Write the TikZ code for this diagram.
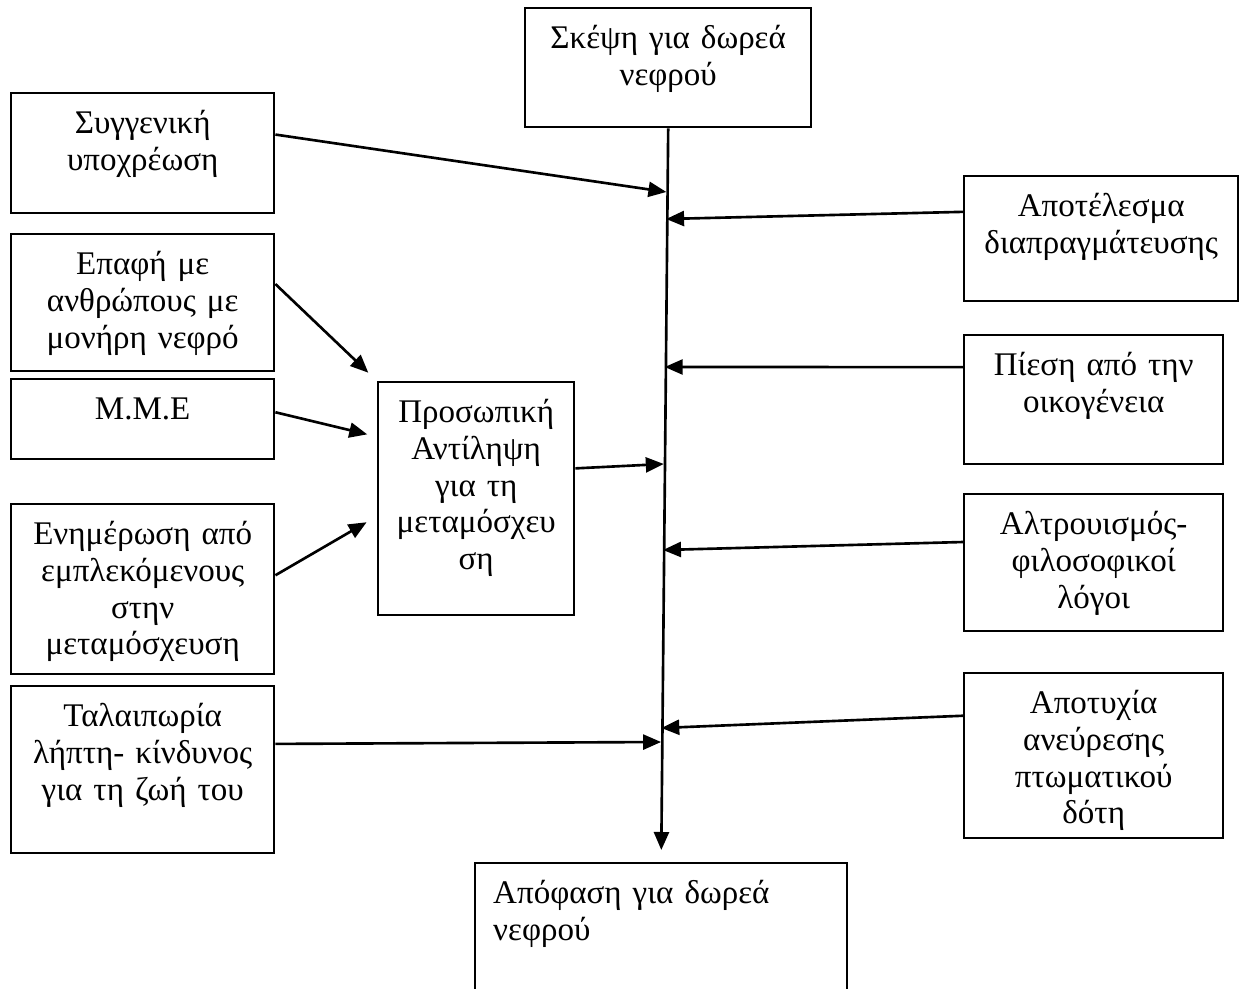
\documentclass[tikz,border=0pt]{standalone}
\usepackage{fontspec}
\setmainfont{Liberation Serif}
\usetikzlibrary{arrows.meta}
\tikzstyle{box} = [rectangle, draw=black, line width=1.4pt, inner sep=0pt, anchor=north west, align=center, text height=0.8cm, font=\fontsize{18.8}{21}\selectfont]
\tikzstyle{arrow} = [line width=1.5pt, -{Triangle[length=0.36cm, width=0.3cm]}]

\begin{document}
\begin{tikzpicture}[x=0.02cm, y=-0.02cm]
\useasboundingbox (0,0) rectangle (1241,989);
\node (think) [box, text width=5.72cm, text depth=1.58cm] at (524,7) {Σκέψη για δωρεά\\νεφρού};
\node (kin) [box, text width=5.26cm, text depth=1.60cm] at (10,92) {Συγγενική\\υποχρέωση};
\node (contact) [box, text width=5.26cm, text depth=1.94cm] at (10,233) {Επαφή με\\ανθρώπους με\\μονήρη νεφρό};
\node (media) [box, text width=5.26cm, text depth=0.80cm] at (10,378) {Μ.Μ.Ε};
\node (info) [box, text width=5.26cm, text depth=2.60cm] at (10,503) {Ενημέρωση από\\εμπλεκόμενους\\στην\\μεταμόσχευση};
\node (burden) [box, text width=5.26cm, text depth=2.54cm] at (10,685) {Ταλαιπωρία\\λήπτη- κίνδυνος\\για τη ζωή του};
\node (persp) [box, text width=3.92cm, text depth=3.86cm] at (377,381) {Προσωπική\\Αντίληψη\\για τη\\μεταμόσχευ\\ση};
\node (outcome) [box, text width=5.48cm, text depth=1.70cm] at (963,175) {Αποτέλεσμα\\διαπραγμάτευσης};
\node (pressure) [box, text width=5.18cm, text depth=1.78cm] at (963,334) {Πίεση από την\\οικογένεια};
\node (altruism) [box, text width=5.18cm, text depth=1.94cm] at (963,493) {Αλτρουισμός-\\φιλοσοφικοί\\λόγοι};
\node (failure) [box, text width=5.18cm, text depth=2.50cm] at (963,672) {Αποτυχία\\ανεύρεσης\\πτωματικού\\δότη};
\node (decide) [box, align=left, inner xsep=0.36cm, text width=6.72cm, text depth=2.16cm] at (474,862) {Απόφαση για δωρεά\\νεφρού};

\coordinate (s1) at (666.4,192);
\coordinate (s2) at (666.1,219);
\coordinate (s3) at (664.7,367);
\coordinate (s4) at (663.8,464);
\coordinate (s5) at (663.0,550);
\coordinate (s6) at (661.3,728);
\coordinate (s7) at (661.1,742);

\draw [arrow, shorten >=0.24cm] (think.south) -- (decide.north);
\draw [arrow] (kin.8) -- (s1);
\draw [arrow, shorten >=0.24cm] (contact.8) -- (persp.north west);
\draw [arrow, shorten >=0.2cm] (media.3) -- (persp.148);
\draw [arrow, shorten >=0.24cm] (info.6.5) -- (persp.190);
\draw [arrow] (persp.17.7) -- (s4);
\draw [arrow] (burden.11.4) -- (s7);
\draw [arrow] (outcome.169.9) -- (s2);
\draw [arrow] (pressure.166.3) -- (s3);
\draw [arrow] (altruism.171.9) -- (s5);
\draw [arrow] (failure.163.8) -- (s6);
\end{tikzpicture}
\end{document}
